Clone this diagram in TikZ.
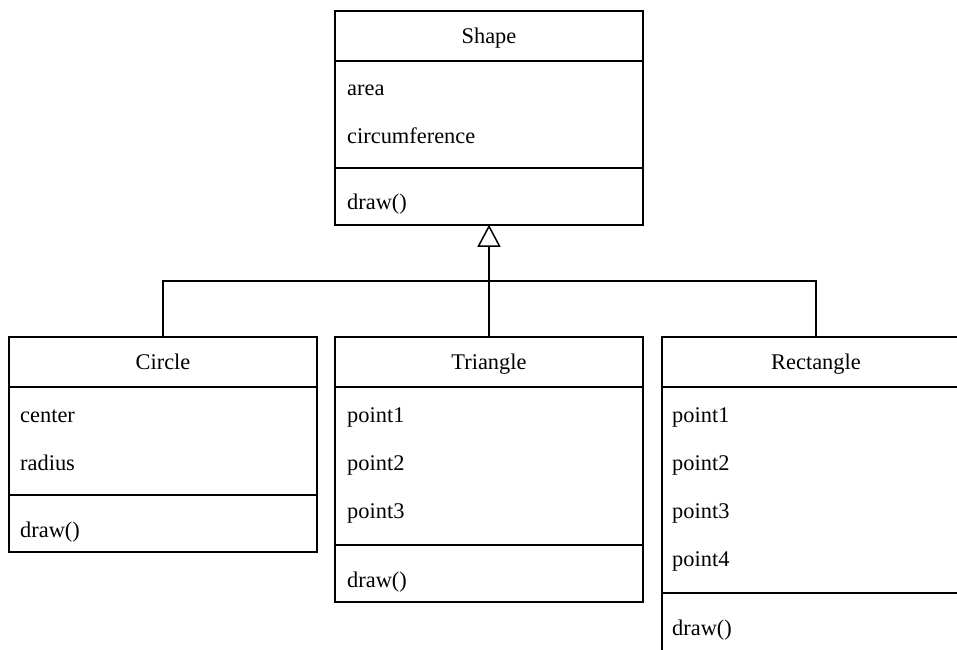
\documentclass[tikz,border=0pt]{standalone}
\usepackage{fontspec}
\setmainfont{Liberation Serif}
\usetikzlibrary{arrows.meta}
\begin{document}
\begin{tikzpicture}[x=1pt,y=-1pt,
  box/.style={draw, line width=1.5pt, inner sep=0pt, minimum width=308pt},
  sep/.style={line width=1.5pt},
  hdr/.style={anchor=base, inner sep=0pt, font=\fontsize{22.4}{26}\selectfont},
  attr/.style={anchor=base west, inner sep=0pt, font=\fontsize{22.4}{26}\selectfont},
  inh/.style={line width=1.5pt, -{Triangle[length=22pt,width=23pt,fill=white,line width=1.5pt]}}]
\useasboundingbox (0,0) rectangle (957,649);
\clip (0,0) rectangle (957,649);
\fill[white] (0,0) rectangle (957,649);
% Shape
\node[box, minimum height=214pt] (shape) at (489,118) {};
\draw[sep] (335,61) -- (643,61) (335,168) -- (643,168);
\node[hdr] (shapeT) at (489,43.5) {Shape};
\node[attr] (shapeA1) at (347,95) {area};
\node[attr] (shapeA2) at (347,143) {circumference};
\node[attr] (shapeM1) at (347,209) {draw()};
% Circle
\node[box, minimum height=215pt] (circ) at (163,444.5) {};
\draw[sep] (9,387) -- (317,387) (9,495) -- (317,495);
\node[hdr] (circT) at (163,369.5) {Circle};
\node[attr] (circA1) at (20,422) {center};
\node[attr] (circA2) at (20,470) {radius};
\node[attr] (circM1) at (20,537) {draw()};
% Triangle
\node[box, minimum height=265pt] (tri) at (489,469.5) {};
\draw[sep] (335,387) -- (643,387) (335,545) -- (643,545);
\node[hdr] (triT) at (489,369.5) {Triangle};
\node[attr] (triA1) at (347,422) {point1};
\node[attr] (triA2) at (347,470) {point2};
\node[attr] (triA3) at (347,518) {point3};
\node[attr] (triM1) at (347,587) {draw()};
% Rectangle
\node[box, minimum height=318pt] (rect) at (816,496) {};
\draw[sep] (662,387) -- (970,387) (662,593) -- (970,593);
\node[hdr] (rectT) at (816,369.5) {Rectangle};
\node[attr] (rectA1) at (672,422) {point1};
\node[attr] (rectA2) at (672,470) {point2};
\node[attr] (rectA3) at (672,518) {point3};
\node[attr] (rectA4) at (672,566) {point4};
\node[attr] (rectM1) at (672,635) {draw()};
% Inheritance
\coordinate (join) at (489,281);
\draw[line width=1.5pt] (circ.north) |- (join);
\draw[line width=1.5pt] (rect.north) |- (join);
\draw[inh] (tri.north) -- ([yshift=1pt]shape.south);
\end{tikzpicture}
\end{document}
